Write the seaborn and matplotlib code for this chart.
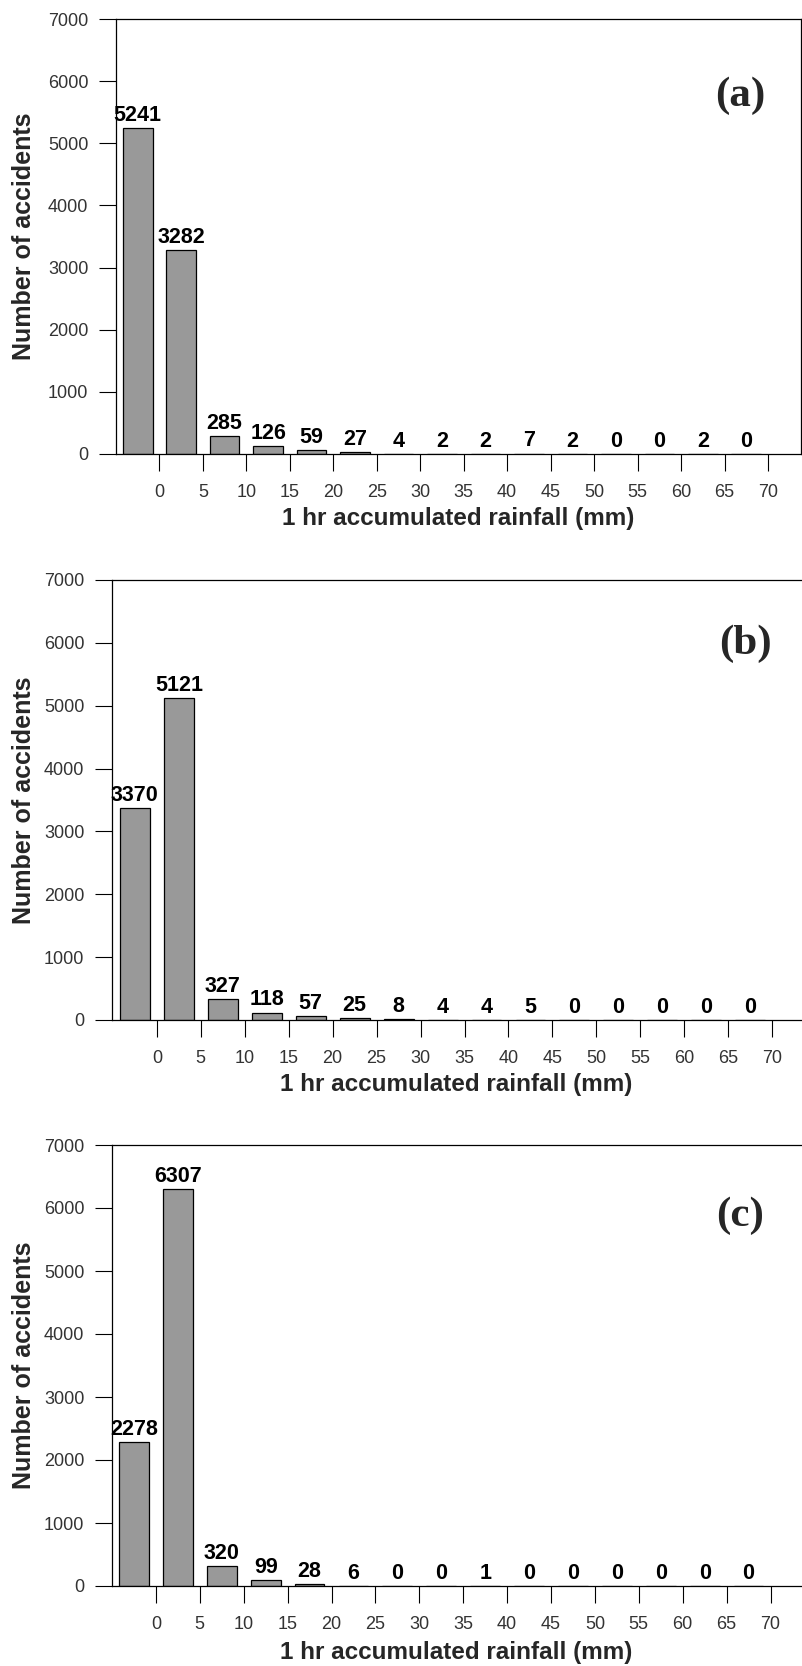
import matplotlib
matplotlib.use("Agg")
import matplotlib.pyplot as plt
import seaborn as sns
import numpy as np
import pandas as pd

# ---- data ----
bin_centers = [-2.5, 2.5, 7.5, 12.5, 17.5, 22.5, 27.5, 32.5, 37.5, 42.5, 47.5, 52.5, 57.5, 62.5, 67.5]
counts_a = [5241, 3282, 285, 126, 59, 27, 4, 2, 2, 7, 2, 0, 0, 2, 0]
counts_b = [3370, 5121, 327, 118, 57, 25, 8, 4, 4, 5, 0, 0, 0, 0, 0]
counts_c = [2278, 6307, 320, 99, 28, 6, 0, 0, 1, 0, 0, 0, 0, 0, 0]
panel_labels = ["(a)", "(b)", "(c)"]
x_ticks = list(range(0, 75, 5))
y_ticks = list(range(0, 8000, 1000))
x_label = "1 hr accumulated rainfall (mm)"
y_label = "Number of accidents"

sns.set_style("ticks")
plt.rcParams["font.family"] = ["Liberation Sans", "DejaVu Sans"]

W, H = 802, 1666
fig = plt.figure(figsize=(W / 100, H / 100), dpi=100)

# pixel layout: left, right, top, bottom, xlim, letter centre, xlabel centre y
layout = [
    dict(l=116, r=801, t=19, b=454, xlim=(-5.0, 73.8), letter=(740, 96), xl_y=519),
    dict(l=112, r=803, t=580, b=1020, xlim=(-5.1, 73.5), letter=(745, 644), xl_y=1085),
    dict(l=112, r=803, t=1145, b=1586, xlim=(-5.0, 73.7), letter=(740, 1216), xl_y=1652),
]
all_counts = [counts_a, counts_b, counts_c]

for counts, lay, letter in zip(all_counts, layout, panel_labels):
    ax = fig.add_axes([lay["l"] / W, 1 - lay["b"] / H,
                       (lay["r"] - lay["l"]) / W, (lay["b"] - lay["t"]) / H])
    df = pd.DataFrame({"rain": bin_centers, "n": counts})
    sns.barplot(data=df, x="rain", y="n", native_scale=True, width=0.68,
                color="#999999", saturation=1, edgecolor="black", linewidth=0.9,
                ax=ax)
    ax.bar_label(ax.containers[0], labels=[str(v) for v in counts], padding=1.5,
                 fontsize=15.5, fontweight="bold", color="black")
    ax.set_xlim(*lay["xlim"])
    ax.set_ylim(0, 7000)
    ax.set_xticks(x_ticks)
    ax.set_xticklabels([str(t) for t in x_ticks])
    ax.set_yticks(y_ticks)
    ax.set_yticklabels([str(t) for t in y_ticks])
    for s in ax.spines.values():
        s.set_visible(True)
        s.set_linewidth(0.9)
        s.set_color("black")
    ax.tick_params(axis="both", direction="out", length=12.5, width=0.8,
                   color="black", labelsize=13, labelcolor="#333333")
    ax.tick_params(axis="x", pad=9)
    ax.tick_params(axis="y", pad=7.5)
    ax.set_xlabel(x_label, fontsize=17.5, fontweight="bold")
    ax.set_ylabel(y_label, fontsize=18, fontweight="bold")
    ax.xaxis.label.set_va("center")
    ax.yaxis.label.set_va("center")
    h = lay["b"] - lay["t"]
    w = lay["r"] - lay["l"]
    ax.xaxis.set_label_coords(((lay["l"] + 801) / 2 - lay["l"]) / w,
                              (lay["b"] - lay["xl_y"]) / h)
    ax.yaxis.set_label_coords((24 - lay["l"]) / w, 0.5)
    fig.text(lay["letter"][0] / W, 1 - lay["letter"][1] / H, letter,
             fontsize=31, fontweight="bold", family="Liberation Serif",
             ha="center", va="center")

fig.savefig("out.png", dpi=100)
